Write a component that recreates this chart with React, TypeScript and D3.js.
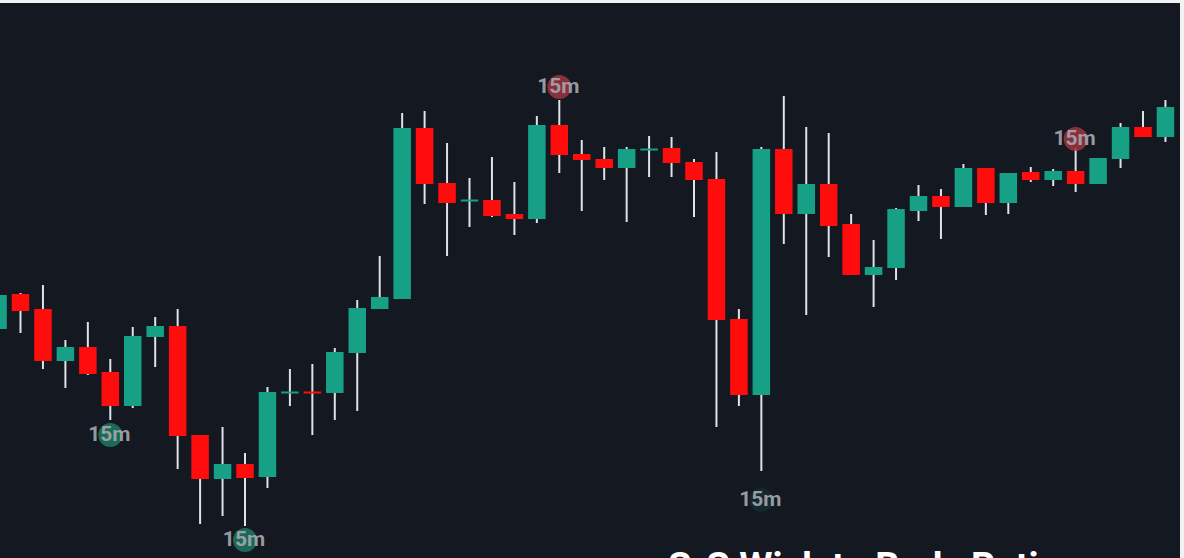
import React, { useEffect } from 'react';
import * as d3 from 'd3';

// OHLC values (price units), one per candle
const opens = [27.1, 30.6, 29.1, 23.9, 25.3, 22.8, 19.4, 26.3, 27.4, 16.5, 12.1, 13.6, 12.3, 20.7, 20.8, 20.7, 24.7, 29.1, 30.1, 47.2, 41.7, 39.9, 40.0, 38.6, 38.1, 47.5, 44.6, 44.1, 43.2, 45.0, 45.2, 43.8, 42.1, 28.1, 20.5, 45.1, 38.6, 41.6, 37.6, 32.5, 33.2, 38.9, 40.4, 39.3, 43.2, 39.7, 42.8, 42.0, 42.9, 41.6, 44.1, 47.3, 46.3];
const highs = [30.7, 30.7, 31.5, 26.0, 27.8, 24.1, 27.3, 28.3, 29.1, 16.5, 17.3, 14.7, 21.3, 23.1, 23.6, 25.2, 30.0, 34.4, 48.7, 48.9, 45.7, 42.2, 44.3, 41.8, 48.4, 50.0, 46.0, 45.3, 45.3, 46.4, 46.3, 44.1, 44.8, 29.1, 45.3, 50.4, 47.3, 46.7, 38.6, 36.0, 39.2, 41.5, 41.1, 43.6, 43.2, 42.7, 43.3, 43.1, 45.2, 44.2, 47.7, 48.9, 50.0];
const lows = [26.9, 26.7, 23.1, 21.2, 22.5, 18.0, 19.2, 23.3, 13.1, 7.6, 8.4, 7.4, 11.2, 19.4, 16.5, 18.0, 18.9, 29.1, 30.1, 39.6, 34.4, 37.3, 38.3, 36.5, 37.7, 42.7, 38.9, 42.0, 37.8, 42.3, 42.3, 38.3, 17.3, 19.4, 12.9, 35.6, 28.5, 34.3, 32.5, 29.3, 32.0, 37.9, 36.1, 39.3, 38.5, 38.6, 41.8, 41.4, 40.8, 41.6, 43.2, 46.3, 45.8];
const closes = [30.5, 28.9, 23.9, 25.3, 22.6, 19.4, 26.4, 27.4, 16.4, 12.1, 13.6, 12.2, 20.8, 20.8, 20.7, 24.8, 29.2, 30.3, 47.2, 41.6, 39.7, 40.0, 38.4, 38.1, 47.5, 44.5, 44.0, 43.2, 45.1, 45.1, 43.7, 42.0, 28.0, 20.5, 45.1, 38.6, 41.6, 37.4, 32.5, 33.3, 39.1, 40.4, 39.3, 43.2, 39.7, 42.7, 42.0, 42.9, 41.6, 44.2, 47.3, 46.3, 49.3];

// "15m" signal markers: candle index, price level of marker, kind
const markerIndex = [5, 11, 25, 34, 48];
const markerPrice = [16.5, 6.0, 51.3, 10.0, 46.1];
const markerKind = ['bull', 'bull', 'bear', 'faint', 'bear'];
const markerLabel = '15m';

const titleText = 'S-S Wick to Body Ratio';

const W = 1184;
const H = 558;

const BG = '#131821';
const UP = '#16a085';
const DOWN = '#ff0d0d';
const WICK = '#dfe2e6';

export default function App() {
  useEffect(() => {
    document.body.style.margin = '0';
    document.body.style.background = '#ffffff';
  }, []);

  const idx = d3.range(opens.length);
  const step = 22.45;
  const x0 = -1.95 - step / 2;
  const x = d3
    .scaleBand<number>()
    .domain(idx)
    .range([x0, x0 + step * idx.length])
    .paddingInner(0.22)
    .paddingOuter(0.11);
  const y = d3.scaleLinear().domain([0, 60]).range([600, 0]);
  const bw = x.bandwidth();

  const markerFill: Record<string, string> = {
    bull: 'rgba(30,120,98,0.85)',
    bear: 'rgba(160,52,64,0.85)',
    faint: 'rgba(30,120,98,0.18)',
  };

  return (
    <svg
      width={W}
      height={H}
      style={{ position: 'fixed', left: 0, top: 0, display: 'block' }}
    >
      <rect x={0} y={0} width={W} height={H} fill="#f2f2f2" />
      <rect x={0} y={3} width={1180} height={H - 3} fill={BG} />
      <g>
        {idx.map((i) => {
          const cx = (x(i) as number) + bw / 2;
          return (
            <line
              key={'w' + i}
              x1={cx}
              x2={cx}
              y1={y(highs[i])}
              y2={y(lows[i])}
              stroke={WICK}
              strokeWidth={2}
            />
          );
        })}
        {idx.map((i) => {
          const up = closes[i] >= opens[i];
          const top = y(Math.max(opens[i], closes[i]));
          const bot = y(Math.min(opens[i], closes[i]));
          const h = Math.max(2, bot - top);
          return (
            <rect
              key={'b' + i}
              x={x(i) as number}
              y={h === 2 ? (top + bot) / 2 - 1 : top}
              width={bw}
              height={h}
              fill={up ? UP : DOWN}
            />
          );
        })}
      </g>
      <g>
        {markerIndex.map((mi, k) => {
          const cx = (x(mi) as number) + bw / 2;
          const cy = y(markerPrice[k]);
          return (
            <g key={'m' + k}>
              <circle cx={cx} cy={cy} r={12} fill={markerFill[markerKind[k]]} />
              <text
                x={cx - 1}
                y={cy + 6}
                textAnchor="middle"
                fontFamily="Roboto, 'Open Sans', sans-serif"
                fontWeight={700}
                fontSize={21}
                fill="#a4a8ae"
                fillOpacity={0.92}
              >
                {markerLabel}
              </text>
            </g>
          );
        })}
      </g>
      <text
        x={668}
        y={580}
        fontFamily="Roboto, 'Open Sans', sans-serif"
        fontWeight={700}
        fontSize={38}
        fill="#ffffff"
      >
        {titleText}
      </text>
    </svg>
  );
}
